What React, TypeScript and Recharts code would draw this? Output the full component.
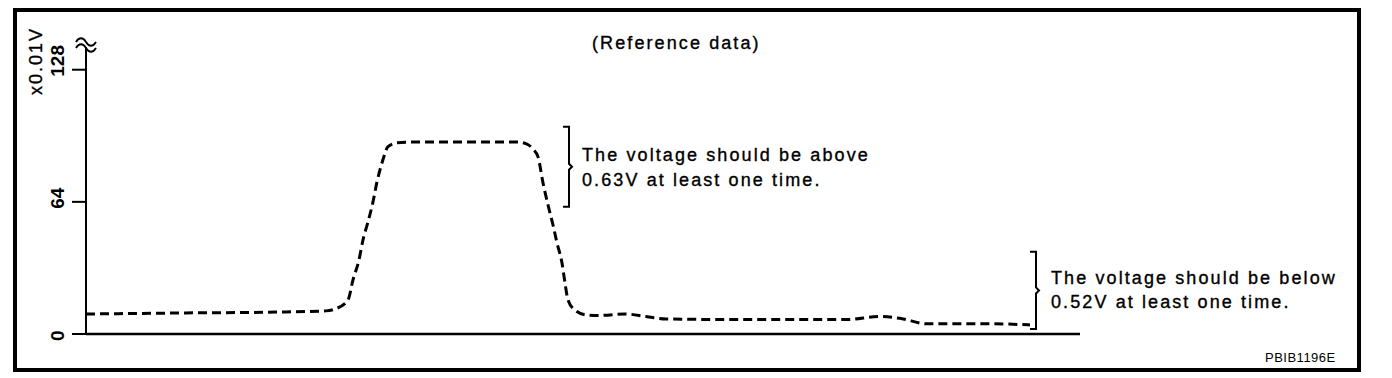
import React from 'react';
import { LineChart, Line, XAxis, YAxis, ReferenceLine, ReferenceDot } from 'recharts';

// ---- data ----
const timePoints = [0, 100, 200, 240, 249, 262, 267, 273, 277, 282, 287, 291, 296, 302, 311, 330, 380, 430, 441, 447, 452, 457, 462, 467, 471, 476, 479, 482, 489, 501, 515, 539, 560, 580, 650, 760, 795, 815, 840, 900, 944];
const voltageValues = [9.7, 10.2, 10.7, 11.2, 12.1, 16.5, 26.2, 35.9, 45.6, 54.3, 64, 73.7, 82.9, 90.7, 92.6, 93, 93, 93, 92, 89.5, 85.8, 73.2, 62.5, 52.8, 44.1, 34.4, 24.7, 16.5, 11.6, 9.2, 9.0, 9.7, 8.5, 7.3, 7.0, 7.0, 8.5, 7.5, 5.0, 5.0, 4.4];
const yTicks = [0, 64, 128];
const yDomain = [0, 139];
const xDomain = [0, 994];
const yUnit = 'x0.01V';
const title = '(Reference data)';
const figureCode = 'PBIB1196E';
const upperNote = ['The voltage should be above', '0.63V at least one time.'];
const lowerNote = ['The voltage should be below', '0.52V at least one time.'];
const upperBracket = { t: 483, top: 100.4, bottom: 61.6 };
const lowerBracket = { t: 950, top: 39.8, bottom: 2.4 };

const data = timePoints.map((t, i) => ({ t, v: voltageValues[i] }));

const FONT = '"Liberation Sans", Arial, Helvetica, sans-serif';

const YTick = (props: any) => {
  const { x, y, payload } = props;
  return (
    <text
      x={x - 6}
      y={y + 7}
      transform={`rotate(-90 ${x - 6} ${y + 7})`}
      textAnchor="start"
      fontFamily={FONT}
      fontSize={19}
      fontWeight="bold"
      fill="#000"
    >
      {payload.value}
    </text>
  );
};

const makeBracket = (lines: string[], textDx: number, l1: number, l2: number) => (p: any) => {
  const x = p.x1;
  const yTop = Math.min(p.y1, p.y2);
  const yBot = Math.max(p.y1, p.y2);
  const ym = (yTop + yBot) / 2;
  const d = `M ${x - 6} ${yTop} L ${x} ${yTop} L ${x} ${ym - 3} L ${x + 3} ${ym} L ${x} ${ym + 3} L ${x} ${yBot} L ${x - 6} ${yBot}`;
  const textProps = {
    fontFamily: FONT,
    fontSize: 18,
    letterSpacing: 2.1,
    fill: '#000',
    stroke: '#000',
    strokeWidth: 0.35,
  };
  return (
    <g>
      <path d={d} stroke="#000" strokeWidth={2} fill="none" />
      <text x={x + textDx} y={ym + l1} {...textProps}>
        {lines[0]}
      </text>
      <text x={x + textDx} y={ym + l2} {...textProps}>
        {lines[1]}
      </text>
    </g>
  );
};

const Squiggle = (p: any) => {
  const { cx, cy } = p;
  const d1 = `M ${cx - 10} ${cy - 5} c 3 -5 7 -5 10 0 s 7 5 10 0`;
  const d2 = `M ${cx - 10} ${cy + 1} c 3 -5 7 -5 10 0 s 7 5 10 0`;
  return (
    <g>
      <path d={d1} stroke="#000" strokeWidth={1.8} fill="none" />
      <path d={d2} stroke="#000" strokeWidth={1.8} fill="none" />
    </g>
  );
};

export default function App() {
  return (
    <div style={{ position: 'absolute', left: 0, top: 0, width: 1392, height: 378, background: '#fff' }}>
      <LineChart width={1392} height={378} data={data} margin={{ top: 47, right: 312, bottom: 0, left: 0 }}>
        <XAxis
          dataKey="t"
          type="number"
          domain={xDomain}
          tick={false}
          tickLine={false}
          axisLine={{ stroke: '#000', strokeWidth: 2.5 }}
          height={44}
        />
        <YAxis
          type="number"
          domain={yDomain}
          ticks={yTicks}
          width={86}
          tickSize={14}
          tickLine={{ stroke: '#000', strokeWidth: 2 }}
          axisLine={{ stroke: '#000', strokeWidth: 2 }}
          tick={<YTick />}
          interval={0}
        />
        <Line
          type="monotone"
          dataKey="v"
          stroke="#000"
          strokeWidth={3}
          strokeDasharray="9 5"
          dot={false}
          isAnimationActive={false}
        />
        <ReferenceLine
          segment={[{ x: upperBracket.t, y: upperBracket.top }, { x: upperBracket.t, y: upperBracket.bottom }]}
          shape={makeBracket(upperNote, 13, -6, 19)}
        />
        <ReferenceLine
          segment={[{ x: lowerBracket.t, y: lowerBracket.top }, { x: lowerBracket.t, y: lowerBracket.bottom }]}
          shape={makeBracket(lowerNote, 15, -6, 18)}
        />
        <ReferenceDot x={0} y={yDomain[1]} shape={<Squiggle />} />
      </LineChart>
      <svg
        width={1392}
        height={378}
        style={{ position: 'absolute', left: 0, top: 0, pointerEvents: 'none' }}
      >
        <rect x={15} y={10} width={1344} height={360} fill="none" stroke="#000" strokeWidth={4} />
        <text x={592} y={49} fontFamily={FONT} fontSize={18} letterSpacing={2.1} fill="#000" stroke="#000" strokeWidth={0.35}>
          {title}
        </text>
        <text
          x={42}
          y={95}
          transform="rotate(-90 42 95)"
          fontFamily={FONT}
          fontSize={18}
          letterSpacing={2}
          fill="#000"
          stroke="#000"
          strokeWidth={0.35}
        >
          {yUnit}
        </text>
        <text x={1265} y={362} fontFamily={FONT} fontSize={13} letterSpacing={0.5} fill="#000">
          {figureCode}
        </text>
      </svg>
    </div>
  );
}
